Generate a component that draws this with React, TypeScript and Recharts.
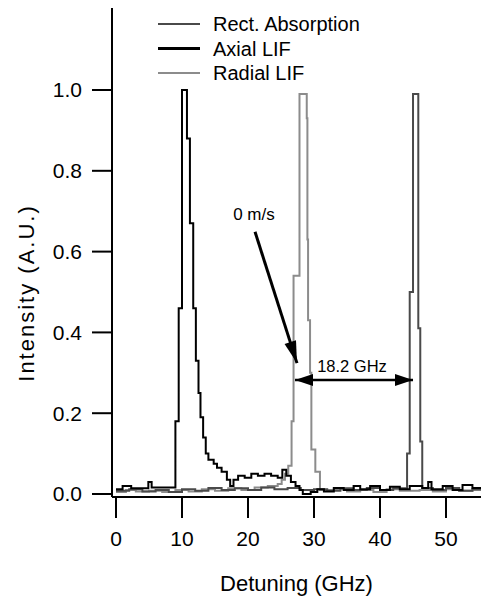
import { LineChart, Line, XAxis, YAxis, Legend, ReferenceLine, ReferenceDot } from 'recharts';

// [detuning GHz, intensity] pairs
const rectAbsorption = [
  [0, 0.008], [2, 0.012], [4, 0.006], [6, 0.01], [8, 0.005], [10, 0.012], [12, 0.008],
  [14, 0.015], [16, 0.01], [18, 0.014], [20, 0.01], [22, 0.016], [24, 0.012], [26, 0.015],
  [28, 0.01], [30, 0.012], [32, 0.008], [34, 0.014], [36, 0.01], [38, 0.015], [40, 0.01],
  [42, 0.014], [44.1, 0.1], [44.5, 0.5], [45.0, 0.99], [45.8, 0.41], [46.1, 0.13],
  [46.4, 0.015], [48, 0.01], [50, 0.015], [52, 0.008], [54, 0.012], [55.3, 0.012],
];

const axialLif = [
  [0, 0.012], [1.0, 0.02], [2.3, 0.014], [4.9, 0.03], [5.4, 0.016], [9.0, 0.18], [9.5, 0.46],
  [10.0, 1.0], [10.75, 0.88], [11.2, 0.67], [11.7, 0.46], [12.1, 0.33], [12.5, 0.25],
  [12.8, 0.19], [13.2, 0.14], [13.6, 0.1], [14.0, 0.085], [14.8, 0.075], [15.3, 0.065],
  [16.0, 0.055], [16.8, 0.035], [17.3, 0.02], [17.8, 0.035], [18.5, 0.045], [19.5, 0.04],
  [20.5, 0.05], [21.5, 0.045], [22.5, 0.05], [23.5, 0.045], [24.5, 0.04], [25.2, 0.06],
  [25.8, 0.045], [26.5, 0.03], [27.2, 0.02], [27.8, 0.01], [28.3, 0.0], [29.5, 0.005],
  [30.5, 0.012], [31.5, 0.006], [33, 0.015], [34.5, 0.01], [36, 0.02], [37, 0.012],
  [38.5, 0.02], [40, 0.01], [41.5, 0.018], [43, 0.012], [44.5, 0.02], [46.4, 0.015],
  [47.3, 0.03], [47.8, 0.012], [49.5, 0.02], [51, 0.01], [52.5, 0.022], [54, 0.015], [55.3, 0.015],
];

const radialLif = [
  [0, 0.005], [1.5, 0.01], [3, 0.006], [5, 0.008], [7, 0.005], [9, 0.01], [11, 0.006],
  [13, 0.012], [15, 0.008], [17, 0.014], [19, 0.01], [21, 0.016], [23, 0.02], [24.5, 0.025],
  [25.1, 0.035], [25.6, 0.05], [26.1, 0.07], [26.6, 0.18], [26.9, 0.54], [27.8, 0.99],
  [28.9, 0.93], [29.0, 0.63], [29.1, 0.43], [29.4, 0.3], [29.6, 0.11], [30.2, 0.055],
  [30.9, 0.01], [33, 0.012], [35, 0.006], [37, 0.01], [39, 0.005], [41, 0.012], [43, 0.008],
  [46, 0.01], [48, 0.006], [50, 0.012], [52, 0.008], [54, 0.01], [55.3, 0.01],
];

const xTicks = [0, 10, 20, 30, 40, 50];
const yTicks = [0, 0.2, 0.4, 0.6, 0.8, 1.0];

const series = [
  { name: 'Rect. Absorption', points: rectAbsorption, color: '#4a4a4a', width: 2, legendWidth: 2 },
  { name: 'Axial LIF', points: axialLif, color: '#000000', width: 2, legendWidth: 3 },
  { name: 'Radial LIF', points: radialLif, color: '#8c8c8c', width: 2, legendWidth: 2 },
];

const FONT = '"Liberation Sans", Arial, Helvetica, sans-serif';

const toRows = (pts: number[][]) => pts.map(([x, y]) => ({ x, y }));

function arrowHead(tx: number, ty: number, fx: number, fy: number, len: number, half: number) {
  const a = Math.atan2(ty - fy, tx - fx);
  const bx = tx - len * Math.cos(a);
  const by = ty - len * Math.sin(a);
  const nx = -Math.sin(a) * half;
  const ny = Math.cos(a) * half;
  return `${tx},${ty} ${bx + nx},${by + ny} ${bx - nx},${by - ny}`;
}

function ArrowShape(props: any) {
  const { x1, y1, x2, y2, both, sw, len, half } = props;
  return (
    <g>
      <line x1={x1} y1={y1} x2={x2} y2={y2} stroke="#000" strokeWidth={sw} />
      <polygon points={arrowHead(x2, y2, x1, y1, len, half)} fill="#000" />
      {both && <polygon points={arrowHead(x1, y1, x2, y2, len, half)} fill="#000" />}
    </g>
  );
}

function LegendBox() {
  return (
    <svg width={481} height={90} style={{ display: 'block' }}>
      {series.map((s, i) => {
        const y = 24 + i * 24.5;
        return (
          <g key={s.name}>
            <line x1={158} x2={200} y1={y} y2={y} stroke={s.color} strokeWidth={s.legendWidth} />
            <text x={213} y={y + 7} fontSize={20} fontFamily={FONT} fill="#000">
              {s.name}
            </text>
          </g>
        );
      })}
    </svg>
  );
}

// y-axis title: the scan's lettering is a bit spaced out
function YTitle() {
  return (
    <text
      transform="translate(26,293) rotate(-90)"
      textAnchor="middle"
      dominantBaseline="central"
      fontSize={22}
      fontFamily={FONT}
      letterSpacing={2}
      fill="#000"
    >
      Intensity (A.U.)
    </text>
  );
}

export default function App() {
  const tickStyle = { fill: '#000', fontSize: 21, fontFamily: FONT };
  return (
    <div style={{ position: 'absolute', left: 0, top: 0, background: '#fff' }}>
      <LineChart width={481} height={598} margin={{ top: 8, right: 0, bottom: 0, left: 0 }}>
        <XAxis
          dataKey="x"
          type="number"
          domain={[-0.606, 55.3]}
          ticks={xTicks}
          allowDataOverflow
          height={101}
          tickSize={21}
          tickMargin={13}
          tick={tickStyle}
          axisLine={{ stroke: '#000', strokeWidth: 2 }}
          tickLine={{ stroke: '#000', strokeWidth: 2 }}
          label={{ value: 'Detuning (GHz)', position: 'insideBottom', offset: 7, fill: '#000', fontSize: 22, fontFamily: FONT }}
        />
        <XAxis
          xAxisId="top"
          orientation="top"
          dataKey="x"
          type="number"
          domain={[-0.606, 55.3]}
          height={0}
          tick={false}
          tickLine={false}
          axisLine={{ stroke: '#000', strokeWidth: 2 }}
        />
        <YAxis
          type="number"
          domain={[-0.0074, 1.203]}
          ticks={yTicks}
          allowDataOverflow
          width={112}
          tickSize={20}
          tickMargin={10}
          tick={tickStyle}
          tickFormatter={(v: number) => v.toFixed(1)}
          axisLine={{ stroke: '#000', strokeWidth: 2 }}
          tickLine={{ stroke: '#000', strokeWidth: 2 }}
          label={{ content: () => <YTitle /> }}
        />
        <Legend
          layout="vertical"
          align="center"
          verticalAlign="middle"
          wrapperStyle={{ left: 0, top: 0, width: 481, height: 90 }}
          content={() => <LegendBox />}
        />
        {[series[2], series[0], series[1]].map((s) => (
          <Line
            key={s.name}
            data={toRows(s.points)}
            dataKey="y"
            name={s.name}
            type="stepAfter"
            stroke={s.color}
            strokeWidth={s.width}
            dot={false}
            activeDot={false}
            isAnimationActive={false}
          />
        ))}
        <ReferenceLine
          segment={[{ x: 21.06, y: 0.649 }, { x: 27.42, y: 0.324 }]}
          ifOverflow="visible"
          shape={(p: any) => <ArrowShape {...p} sw={3} len={22} half={6} />}
        />
        <ReferenceLine
          segment={[{ x: 27.12, y: 0.282 }, { x: 45.0, y: 0.282 }]}
          ifOverflow="visible"
          shape={(p: any) => <ArrowShape {...p} both sw={2.5} len={18} half={6} />}
        />
        <ReferenceDot
          x={20.9}
          y={0.693}
          r={0}
          fill="none"
          stroke="none"
          ifOverflow="visible"
          label={{ value: '0 m/s', position: 'center', fill: '#000', fontSize: 17, fontFamily: FONT }}
        />
        <ReferenceDot
          x={35.76}
          y={0.317}
          r={0}
          fill="none"
          stroke="none"
          ifOverflow="visible"
          label={{ value: '18.2 GHz', position: 'center', fill: '#000', fontSize: 16.5, fontFamily: FONT }}
        />
      </LineChart>
    </div>
  );
}
